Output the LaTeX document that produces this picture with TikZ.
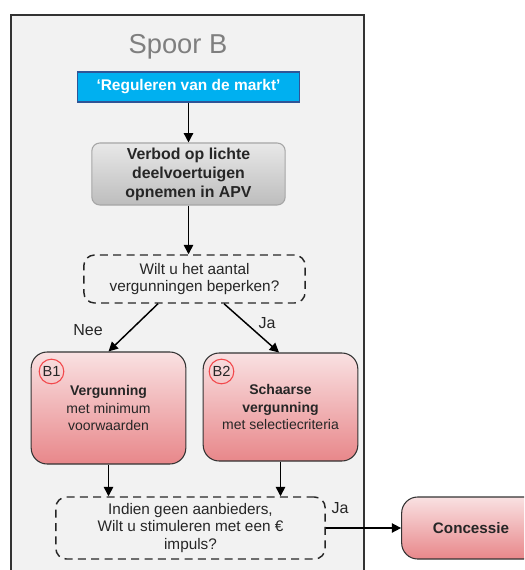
\documentclass[tikz,border=0pt]{standalone}
\usepackage{fontspec}
\setmainfont{Liberation Sans}
\usetikzlibrary{calc,arrows.meta,shadings}
\definecolor{panelbg}{HTML}{F2F2F2}
\definecolor{skyblue}{HTML}{00B0F0}
\definecolor{skyedge}{HTML}{2F5597}
\definecolor{pinktop}{HTML}{F9E1E2}
\definecolor{pinkbot}{HTML}{E8878A}
\definecolor{greytop}{HTML}{E8E8E8}
\definecolor{greybot}{HTML}{BDBDBD}
\definecolor{titlegrey}{HTML}{7F7F7F}
\definecolor{inktext}{HTML}{262626}
\definecolor{badgered}{HTML}{F2484B}
\begin{document}
\begin{tikzpicture}[x=0.75pt,y=-0.75pt,
  every node/.style={inner sep=0pt, align=center, text=inktext},
  link/.style={line width=1.1pt,-{Triangle[length=7pt,width=7pt]}},
  bluebox/.style={draw=skyedge, line width=0.8pt, fill=skyblue, text=white,
    font=\bfseries\fontsize{11.6}{14}\selectfont, minimum width=166pt, minimum height=22.5pt},
  greybox/.style={draw=black!35, line width=0.8pt, rounded corners=6pt,
    top color=greytop, bottom color=greybot, font=\bfseries\fontsize{11.9}{14.2}\selectfont,
    minimum width=145pt, minimum height=46.5pt},
  question/.style={draw=black!85, line width=1.1pt, dash pattern=on 6pt off 4pt,
    rounded corners=8pt, font=\fontsize{11.5}{12.9}\selectfont},
  optionbox/.style={draw=black!80, line width=0.8pt, rounded corners=12pt,
    top color=pinktop, bottom color=pinkbot, font=\fontsize{10.5}{13}\selectfont},
  badge/.style={circle, draw=badgered, line width=0.8pt, minimum size=18.5pt,
    font=\fontsize{11}{12}\selectfont},
  lbl/.style={font=\fontsize{12}{14}\selectfont}]
\clip (0,0) rectangle (524,570);
\useasboundingbox (0,0) rectangle (524,570);
\fill[white] (0,0) rectangle (524,570);
% track panel
\draw[fill=panelbg, draw=black!80, line width=0.9pt] (11,15) rectangle (364,590);
\node[text=titlegrey, font=\fontsize{20.5}{24}\selectfont] (title) at (178,47) {Spoor B};
% flow
\node[bluebox] (markt) at (188.5,87) {‘Reguleren van de markt’};
\node[greybox] (verbod) at (188.5,174) {Verbod op lichte\\deelvoertuigen\\opnemen in APV};
\node[question, minimum width=166pt, minimum height=36pt] (q1) at (194.5,279)
  {Wilt u het aantal\\vergunningen beperken?};
\node[optionbox, minimum width=116pt, minimum height=84pt] (b1) at (108.5,408)
  {\textbf{Vergunning}\\met minimum\\voorwaarden};
\node[optionbox, minimum width=116pt, minimum height=81pt] (b2) at (280.5,407)
  {\textbf{Schaarse}\\\textbf{vergunning}\\met selectiecriteria};
\node[badge] (b1tag) at (51.5,371.5) {B1};
\node[badge] (b2tag) at (221.5,371.5) {B2};
\node[question, minimum width=202pt, minimum height=46.5pt] (q2) at (190.5,528)
  {Indien geen aanbieders,\\Wilt u stimuleren met een €\\impuls?};
\node[optionbox, minimum width=104pt, minimum height=46.5pt,
  font=\bfseries\fontsize{11.4}{13}\selectfont] (conc) at (471,528) {Concessie};
% connectors
\draw[link] (markt.south) -- (markt.south |- verbod.north);
\draw[link] (verbod.south) -- (verbod.south |- q1.north);
\draw[link] ($(q1.south)+(-36.5,0)$) -- (b1.north);
\draw[link] ($(q1.south)+(29.5,0)$) -- ($(b2.north)+(-1.5,0)$);
\draw[link] (b1.south) -- (b1.south |- q2.north);
\draw[link] (b2.south) -- (b2.south |- q2.north);
\draw[link] (q2.east) -- (conc.west);
% answer labels
\node[lbl] (nee) at (88,330) {Nee};
\node[lbl] (ja1) at (267,323) {Ja};
\node[lbl] (ja2) at (340,508) {Ja};
\end{tikzpicture}
\end{document}
